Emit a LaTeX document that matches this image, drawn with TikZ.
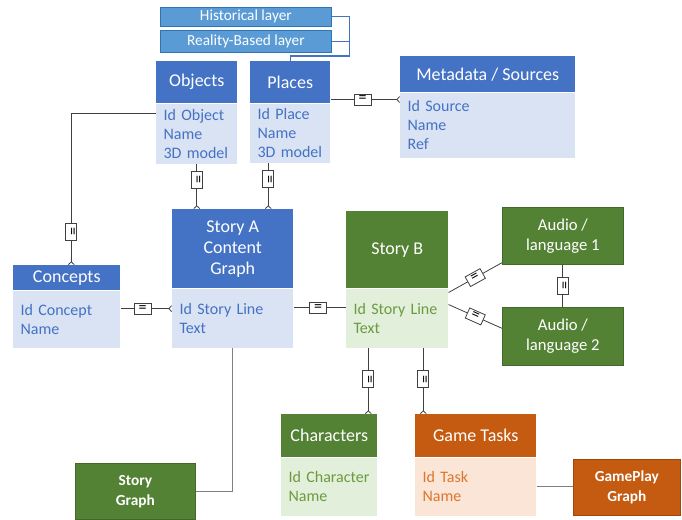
\documentclass[tikz,border=0pt]{standalone}
\usepackage{fontspec}
\setmainfont{Carlito}
\usetikzlibrary{arrows.meta,calc}

\definecolor{entblue}{HTML}{4472C4}
\definecolor{entbluelt}{HTML}{DAE3F3}
\definecolor{layerblue}{HTML}{5B9BD5}
\definecolor{layeredge}{HTML}{2E75B6}
\definecolor{entgreen}{HTML}{548235}
\definecolor{entgreenlt}{HTML}{E2EFDA}
\definecolor{txtgreen}{HTML}{6C9A3F}
\definecolor{entorange}{HTML}{C55A11}
\definecolor{entorangelt}{HTML}{FBE5D6}
\definecolor{txtorange}{HTML}{DD7530}

\newcommand\entHead{\fontsize{13.5}{15.75}\selectfont}
\newcommand\entBody{\fontsize{12}{14.25}\selectfont}
\newcommand\layerFont{\fontsize{11.5}{13}\selectfont}
\newcommand\graphFont{\fontsize{11.5}{15}\selectfont\bfseries}
\newcommand\audioFont{\fontsize{12.5}{15}\selectfont}

\tikzset{
  hdr/.style={rectangle, anchor=north west, inner sep=0pt, align=center, text=white, font=\entHead},
  bhdr/.style={hdr, fill=entblue},
  ghdr/.style={hdr, fill=entgreen},
  ohdr/.style={hdr, fill=entorange},
  bdy/.style={rectangle, anchor=north west, inner xsep=5.5pt, inner ysep=0pt, align=left, font=\entBody},
  bbdy/.style={bdy, fill=entbluelt, text=entblue},
  gbdy/.style={bdy, fill=entgreenlt, text=txtgreen},
  obdy/.style={bdy, fill=entorangelt, text=txtorange},
  layer/.style={rectangle, anchor=north west, inner sep=0pt, fill=layerblue, draw=layeredge,
    line width=0.6pt, text=white, font=\layerFont, minimum width=128.25pt},
  solo/.style={rectangle, anchor=north west, inner sep=0pt, align=center, text=white,
    draw=#1!80!black, line width=0.5pt, fill=#1},
  rel/.style={draw=black!75, line width=0.6pt},
  foot/.style={rel, -{Straight Barb[reversed, length=2pt, width=4.5pt]}},
  lmark/.style={draw=black!75, fill=white, line width=0.6pt, sloped, inner sep=0pt,
    minimum width=12.75pt, minimum height=8.25pt, font=\fontsize{12}{12}\selectfont},
  lyr/.style={draw=entblue, line width=0.8pt},
  grph/.style={draw=black!50, line width=0.8pt},
}

\begin{document}
\begin{tikzpicture}[x=0.75pt, y=-0.75pt]
  \useasboundingbox (0,0) rectangle (682,520);
  % layers
  \node[layer, minimum height=14.25pt] (hist) at (160,7) {Historical layer};
  \node[layer, minimum height=16.5pt] (real) at (160,30) {Reality-Based layer};
  % objects and places
  \node[bhdr, minimum width=60.75pt, minimum height=31.5pt] (objH) at (156,61) {Objects};
  \node[bbdy, text width=49.75pt, minimum height=45pt] (objB) at (objH.south west) {Id Object\\Name\\3D model};
  \node[bhdr, minimum width=60pt, minimum height=31.5pt] (plcH) at (250,61) {Places};
  \node[bbdy, text width=49pt, minimum height=44.25pt] (plcB) at (plcH.south west) {Id Place\\Name\\3D model};
  % metadata
  \node[bhdr, minimum width=131.25pt, minimum height=27pt] (metaH) at (400,56) {Metadata / Sources};
  \node[bbdy, text width=120.25pt, minimum height=48.75pt] (metaB) at (metaH.south west) {Id Source\\Name\\Ref};
  % concepts
  \node[bhdr, minimum width=80.25pt, minimum height=18.75pt] (concH) at (13,265) {Concepts};
  \node[bbdy, text width=69.25pt, minimum height=42.75pt] (concB) at (concH.south west) {Id Concept\\Name};
  % story A
  \node[bhdr, minimum width=90.75pt, minimum height=59.25pt] (storyAH) at (172,209) {Story A\\Content\\Graph};
  \node[bbdy, text width=79.75pt, minimum height=44.25pt] (storyAB) at (storyAH.south west) {Id Story Line\\Text};
  % story B
  \node[ghdr, minimum width=76.5pt, minimum height=57.75pt] (storyBH) at (346,211) {Story B};
  \node[gbdy, text width=65.5pt, minimum height=44.25pt] (storyBB) at (storyBH.south west) {Id Story Line\\Text};
  % audio
  \node[solo=entgreen, font=\audioFont, minimum width=90.75pt, minimum height=42.75pt] (aud1) at (502,207) {Audio /\\language 1};
  \node[solo=entgreen, font=\audioFont, minimum width=90.75pt, minimum height=43.5pt] (aud2) at (502,307) {Audio /\\language 2};
  % characters and game tasks
  \node[ghdr, minimum width=72pt, minimum height=32.25pt] (charH) at (281,414) {Characters};
  \node[gbdy, text width=61pt, minimum height=43.5pt] (charB) at (charH.south west) {Id Character\\Name};
  \node[ohdr, minimum width=90.75pt, minimum height=32.25pt] (taskH) at (415,414) {Game Tasks};
  \node[obdy, text width=79.75pt, minimum height=43.5pt] (taskB) at (taskH.south west) {Id Task\\Name};
  % graphs
  \node[solo=entgreen, font=\graphFont, minimum width=90pt, minimum height=42pt] (sgraph) at (75,463) {Story\\Graph};
  \node[solo=entorange, font=\graphFont, minimum width=80.25pt, minimum height=42pt] (gplay) at (573,459) {GamePlay\\Graph};
  % layers to places
  \coordinate (lb) at ($(hist.east)+(18,0)$);
  \draw[lyr] (hist.east) -- (lb) -- ($(lb |- plcH.north)+(0,-5)$) -| (plcH.north);
  \draw[lyr] (real.east) -- (real.east -| lb);
  % places - metadata
  \coordinate (m1) at ([yshift=-5.25pt]metaB.north west);
  \draw[foot] (plcH.east |- m1) -- node[lmark, pos=0.46] {=} (m1);
  % objects - concepts
  \coordinate (c0) at ([yshift=-7.5pt]objB.north west);
  \coordinate (c1) at ([xshift=3.4pt]concH.north);
  \draw[foot] (c0) -| node[lmark, pos=0.89] {=} (c1);
  % objects, places - story A
  \draw[foot] (objB.south) -- node[lmark, pos=0.35] {=} (objB.south |- storyAH.north);
  \coordinate (p1) at ([xshift=-16.5pt]plcB.south);
  \draw[foot] (p1) -- node[lmark, pos=0.35] {=} (p1 |- storyAH.north);
  % concepts - story A - story B
  \coordinate (s1) at ([yshift=8pt]concB.east);
  \draw[foot] (s1) -- node[lmark, pos=0.43] {=} (s1 -| storyAB.west);
  \coordinate (s2) at ([yshift=8pt]storyAB.east);
  \draw[rel] (s2) -- node[lmark, pos=0.47] {=} (s2 -| storyBB.west);
  % story B - audio
  \draw[rel] ([yshift=-3pt]storyBB.north east) -- node[lmark] {=} ([yshift=1.5pt]aud1.south west);
  \draw[rel] ([yshift=-12pt]storyBB.north east) -- node[lmark] {=} ([yshift=6pt]aud2.west);
  \draw[rel] (aud1.south) -- node[lmark] {=} (aud2.north);
  % story B - characters, game tasks
  \coordinate (b1) at ([xshift=-21.75pt]storyBB.south);
  \coordinate (b2) at ([xshift=19.5pt]storyBB.south);
  \draw[foot] (b1) -- node[lmark, pos=0.47] {=} (b1 |- charH.north);
  \draw[foot] (b2) -- node[lmark, pos=0.47] {=} (b2 |- taskH.north);
  % graphs
  \draw[grph] (storyAB.south) |- (sgraph.east);
  \draw[grph] (taskB.east) -- (taskB.east -| gplay.west);
\end{tikzpicture}
\end{document}
